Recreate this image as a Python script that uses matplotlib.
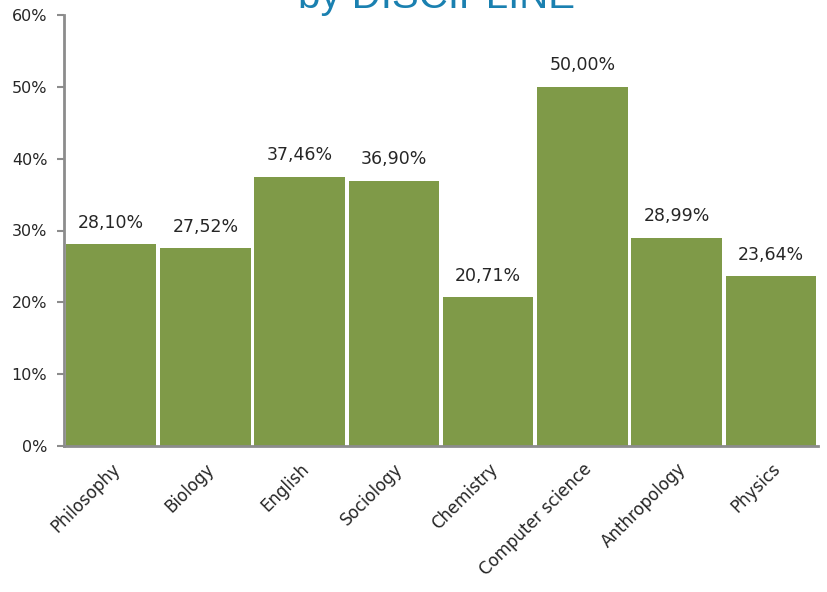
import matplotlib.pyplot as plt
from matplotlib.ticker import FuncFormatter

disciplines = ['Philosophy', 'Biology', 'English', 'Sociology', 'Chemistry',
               'Computer science', 'Anthropology', 'Physics']
shares = [28.10, 27.52, 37.46, 36.90, 20.71, 50.00, 28.99, 23.64]

bar_color = '#7f9a48'
axis_color = '#8c8c8c'
text_color = '#262626'

plt.rcParams['font.family'] = ['DejaVu Sans']

fig = plt.figure(figsize=(8.27, 5.92), dpi=100)
ax = fig.add_axes([64 / 827, 1 - 446 / 592, (818 - 64) / 827, (446 - 15) / 592])

x = range(len(disciplines))
bars = ax.bar(x, shares, width=0.96, color=bar_color)

for rect, val in zip(bars, shares):
    ax.annotate(f'{val:.2f}%'.replace('.', ','),
                (rect.get_x() + rect.get_width() / 2, rect.get_height()),
                xytext=(0, 9), textcoords='offset points',
                ha='center', va='bottom', fontsize=12.5, color=text_color)

ax.set_xlim(-0.5, 7.5)
ax.set_ylim(0, 60)
ax.set_yticks(range(0, 61, 10))
ax.yaxis.set_major_formatter(FuncFormatter(lambda v, _: f'{v:.0f}%'))
ax.set_xticks(list(x))
ax.set_xticklabels(disciplines, rotation=45, ha='right', rotation_mode='anchor')

ax.tick_params(axis='y', length=5, width=1.5, color=axis_color,
               labelsize=11.5, labelcolor=text_color, pad=7)
ax.tick_params(axis='x', length=0, labelsize=12, labelcolor=text_color, pad=10)

for side in ['top', 'right']:
    ax.spines[side].set_visible(False)
for side in ['left', 'bottom']:
    ax.spines[side].set_color(axis_color)
    ax.spines[side].set_linewidth(2)

fig.text(437 / 827, 1 - 8 / 592, 'by DISCIPLINE', ha='center', va='baseline',
         fontsize=29, color='#1a80b0', family='Liberation Sans')

fig.savefig('out.png', dpi=100)
